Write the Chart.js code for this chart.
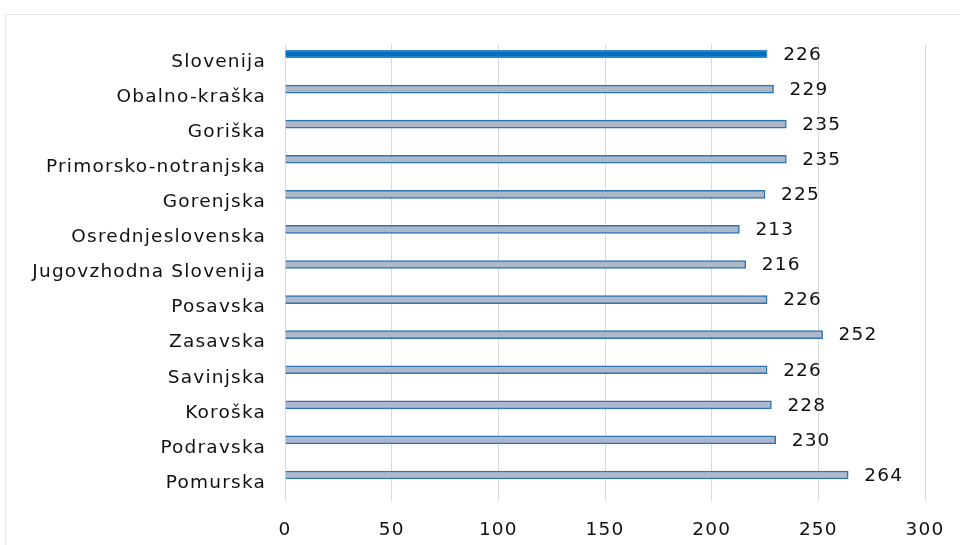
<!DOCTYPE html>
<html><head><meta charset="utf-8">
<script src="https://cdn.jsdelivr.net/npm/chart.js@4.4.0/dist/chart.umd.min.js"></script>
<style>html,body{margin:0;padding:0;background:#fff;}#wrap{width:960px;height:545px;position:relative;}</style>
</head><body><div id="wrap"><canvas id="c" width="960" height="545"></canvas></div>
<script>
const categories = ["Slovenija","Obalno-kraška","Goriška","Primorsko-notranjska","Gorenjska","Osrednjeslovenska","Jugovzhodna Slovenija","Posavska","Zasavska","Savinjska","Koroška","Podravska","Pomurska"];
const values = [226,229,235,235,225,213,216,226,252,226,228,230,264];
const xTicks = [0,50,100,150,200,250,300];
const FONT = "DejaVu Sans";
const SPACING = "1.2px";
const fills = categories.map((c,i)=> i===0 ? "#0070C0" : "#ADB9CA");
const borders = categories.map((c,i)=> i===0 ? "#3F8ACB" : "#2E75B6");

const labelPlugin = {
  id:'labels',
  afterDatasetsDraw(chart){
    const ctx = chart.ctx;
    const meta = chart.getDatasetMeta(0);
    ctx.save();
    ctx.letterSpacing = SPACING;
    ctx.font = "18.5px '"+FONT+"'";
    ctx.fillStyle = "#111";
    ctx.textBaseline = "middle";
    ctx.textAlign = "left";
    meta.data.forEach((bar,i)=>{
      ctx.fillText(String(values[i]), bar.x + 16, bar.y + 1);
    });
    ctx.restore();
  }
};
const borderPlugin = {
  id:'frame',
  beforeDraw(chart){
    const ctx = chart.ctx;
    ctx.letterSpacing = SPACING;
    ctx.save();
    ctx.strokeStyle = "#E6E6E6";
    ctx.lineWidth = 1;
    ctx.strokeRect(5.5,14.5,970,560);
    ctx.restore();
  }
};

new Chart(document.getElementById('c'), {
  type:'bar',
  data:{ labels:categories, datasets:[
    {data:values, backgroundColor:fills, borderColor:borders, borderWidth:1.5},
    {data:categories.map(()=>null)},
    {data:categories.map(()=>null)}
  ]},
  options:{
    indexAxis:'y', responsive:false, animation:false,
    barThickness:8,
    layout:{padding:{top:44.5,right:35,left:0,bottom:0}},
    plugins:{legend:{display:false}, tooltip:{enabled:false}},
    scales:{
      x:{min:0,max:300, afterBuildTicks(s){ s.ticks = xTicks.map(v=>({value:v})); },
        grid:{color:"#D9D9D9", lineWidth:1, drawTicks:false},
        border:{display:false},
        ticks:{color:"#111", font:{family:FONT,size:18.5}, padding:19},
        afterFit(s){ s.height = 44.5; s.paddingLeft = 0; s.paddingRight = 0; }
      },
      y:{grid:{display:false}, border:{display:false},
        ticks:{color:"#111", font:{family:FONT,size:18.5}, padding:11},
        afterFit(s){ s.width = 285; }
      }
    }
  },
  plugins:[labelPlugin, borderPlugin]
});
</script></body></html>
